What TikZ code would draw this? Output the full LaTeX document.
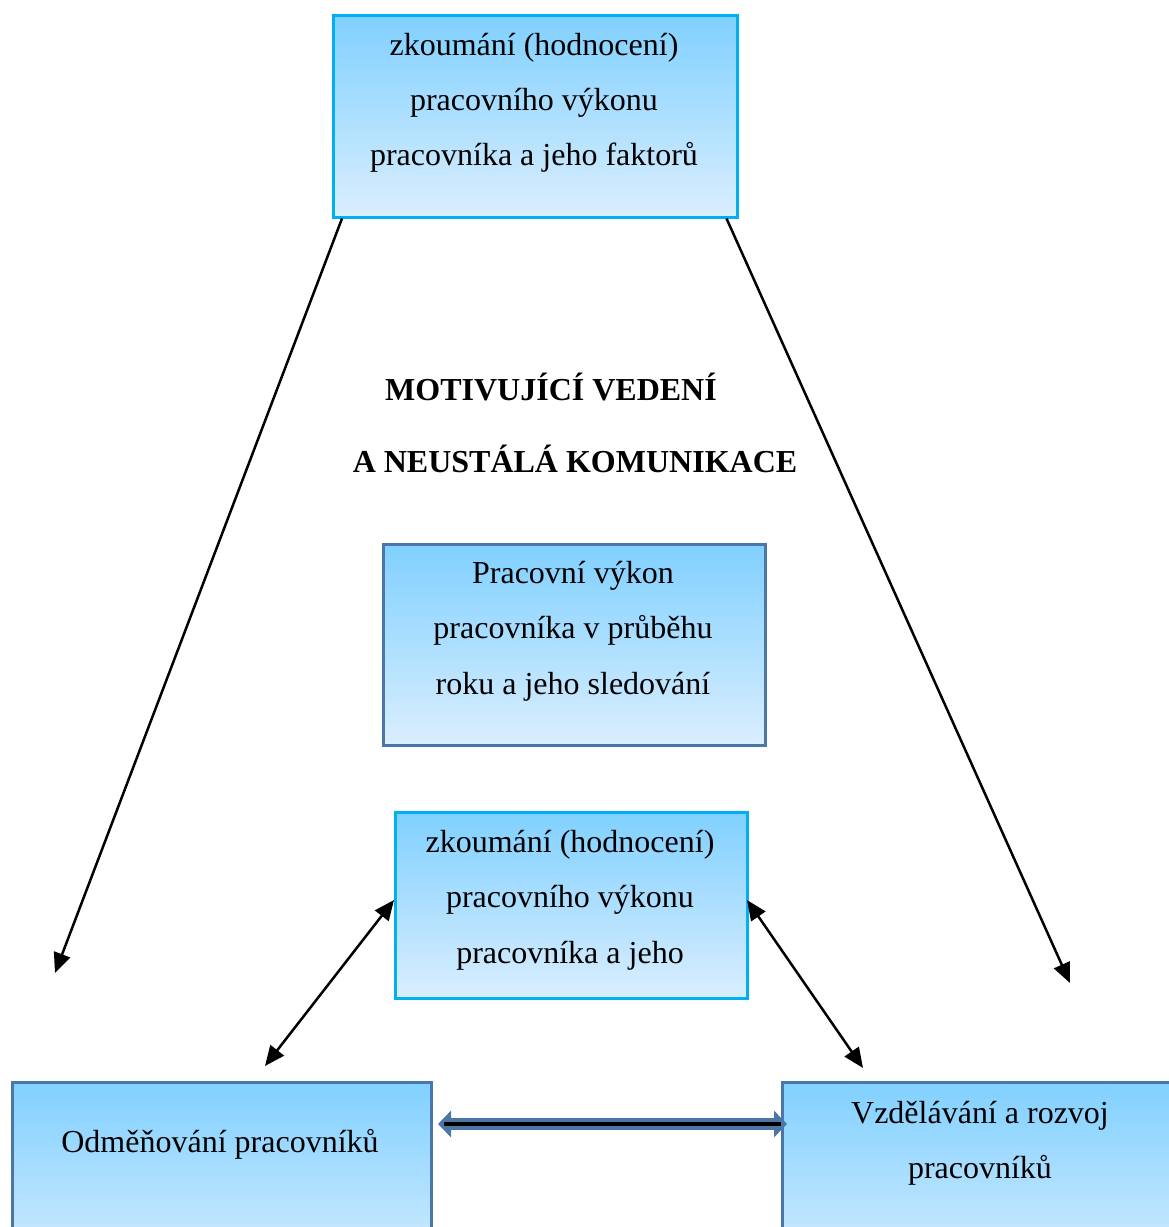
\documentclass[tikz,border=0pt]{standalone}
\usepackage{fontspec}
\setmainfont{Liberation Serif}
\usetikzlibrary{arrows.meta,calc}
\definecolor{cyanb}{RGB}{0,176,240}
\definecolor{steelb}{RGB}{74,118,168}
\definecolor{topc}{RGB}{128,208,255}
\definecolor{botc}{RGB}{218,238,254}
\begin{document}
\begin{tikzpicture}[x=1pt,y=-1pt,
  shbox/.style={rectangle, inner sep=0pt, line width=2.5pt, top color=topc, bottom color=botc, anchor=north west},
  cbox/.style={shbox, draw=cyanb},
  sbox/.style={shbox, draw=steelb},
  txt/.style={inner sep=0pt, anchor=base, font=\fontsize{32}{38}\selectfont},
  btxt/.style={txt, font=\fontsize{32}{38}\selectfont\bfseries},
  arr/.style={line width=2.5pt, -{Triangle[length=20pt,width=17pt]}},
  darr/.style={line width=2.5pt, {Triangle[length=20pt,width=17pt]}-{Triangle[length=20pt,width=17pt]}}
]
\useasboundingbox (0,0) rectangle (1169,1227);
% boxes
\node[cbox, minimum width=404pt, minimum height=202pt] (top) at (332,14) {};
\node[sbox, minimum width=382pt, minimum height=201pt] (mid) at (382,543) {};
\node[cbox, minimum width=352pt, minimum height=186pt] (low) at (394,811) {};
\node[sbox, minimum width=419pt, minimum height=200pt] (bl) at (11,1081) {};
\node[sbox, minimum width=398pt, minimum height=200pt] (br) at (781,1081) {};
% texts
\node[txt] (t1) at (534,55) {zkoumání (hodnocení)};
\node[txt] (t2) at (534,110) {pracovního výkonu};
\node[txt] (t3) at (534,165) {pracovníka a jeho faktorů};
\node[btxt] (h1) at (551,400) {MOTIVUJÍCÍ VEDENÍ};
\node[btxt] (h2) at (575,472) {A NEUSTÁLÁ KOMUNIKACE};
\node[txt] (m1) at (573,583) {Pracovní výkon};
\node[txt] (m2) at (573,638) {pracovníka v průběhu};
\node[txt] (m3) at (573,694) {roku a jeho sledování};
\node[txt] (l1) at (570,852) {zkoumání (hodnocení)};
\node[txt] (l2) at (570,907) {pracovního výkonu};
\node[txt] (l3) at (570,963) {pracovníka a jeho};
\node[txt] (b1) at (220,1152) {Odměňování pracovníků};
\node[txt] (r1) at (980,1123) {Vzdělávání a rozvoj};
\node[txt] (r2) at (980,1178) {pracovníků};
% connector end points
\coordinate (ltip) at (55,973);
\coordinate (rtip) at (1070,983);
\coordinate (lowl) at (394,900);
\coordinate (lowr) at (747,900);
\coordinate (bltip) at (265,1066);
\coordinate (brtip) at (863,1068);
\coordinate (hl) at (438,1124);
\coordinate (hr) at (787,1124);
% connectors
\draw[arr] ($(top.south west)+(10,0)$) -- (ltip);
\draw[arr] ($(top.south east)+(-12,0)$) -- (rtip);
\draw[darr] (lowl) -- (bltip);
\draw[darr] (lowr) -- (brtip);
\draw[line width=12pt, steelb, {Triangle[length=13pt,width=26pt]}-{Triangle[length=13pt,width=26pt]}] (hl) -- (hr);
\draw[line width=4pt, black] ($(hl)+(6,0)$) -- ($(hr)+(-6,0)$);
\end{tikzpicture}
\end{document}
